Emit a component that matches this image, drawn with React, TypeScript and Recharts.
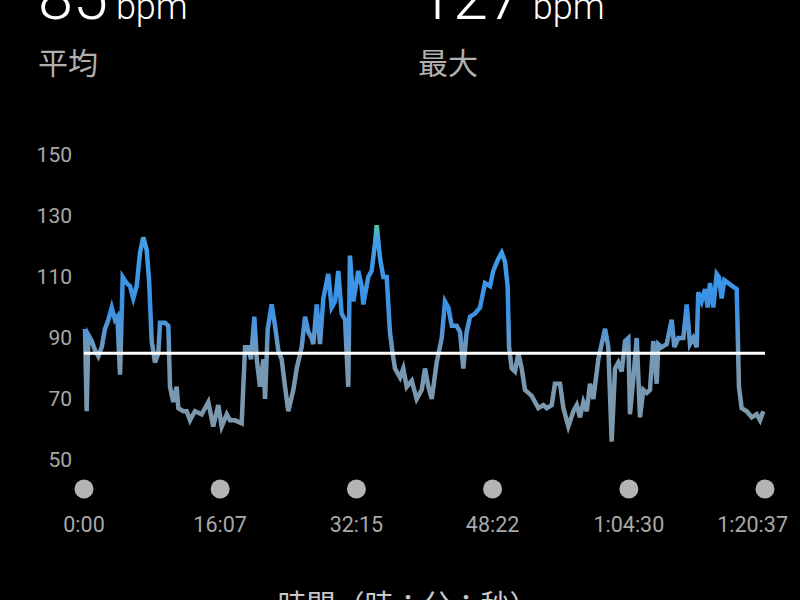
import { LineChart, Line, XAxis, YAxis, ReferenceLine } from 'recharts'

// elapsed seconds
const times = [
    7, 19, 31, 55, 78, 102, 126, 149, 173, 197, 220, 237, 256, 275, 303, 327, 350, 374, 398, 421,
    445, 462, 481, 504, 528, 540, 575, 599, 611, 634, 658, 670, 705, 729, 753, 776,
    788, 836, 883, 918, 954, 978, 1014, 1037, 1073, 1120, 1144, 1167, 1186, 1210, 1227, 1250, 1274, 1286, 1305, 1333,
    1357, 1380, 1404, 1428, 1451, 1487, 1511, 1546, 1570, 1593,
    1617, 1629, 1653, 1676, 1700, 1735, 1759, 1783, 1806, 1830, 1854, 1877, 1889, 1913, 1948, 1972, 1984, 2019, 2043, 2067,
    2079, 2103, 2126, 2150, 2173, 2192, 2209, 2245, 2268, 2292, 2328, 2363, 2399,
    2422, 2446, 2470, 2505, 2541, 2564, 2588, 2612, 2647, 2671, 2694, 2718, 2742, 2777, 2813, 2848, 2884, 2907, 2943, 2967,
    2990, 3009, 3019, 3038, 3061, 3085, 3109, 3132, 3180, 3227,
    3263, 3287, 3322, 3345, 3381, 3405, 3440, 3476, 3500, 3523, 3547, 3571, 3594, 3618, 3653, 3677, 3701, 3724, 3748, 3772,
    3795, 3819, 3843, 3866, 3878, 3902, 3926, 3949, 3973, 3997, 4020, 4044,
    4068, 4079, 4103, 4139, 4174, 4193, 4221, 4257, 4281, 4304, 4328, 4352, 4363, 4387, 4411, 4430, 4446, 4470, 4494, 4510,
    4529, 4548, 4576, 4605, 4636, 4652, 4671, 4707, 4743, 4778, 4802, 4825,
]

const bpm = [
    93, 66, 91, 89, 86, 84, 87, 93, 96, 100, 96, 97, 78, 110, 108, 107, 103, 107, 118, 123,
    119, 109, 89, 82, 85, 95, 95, 94, 74, 69, 74, 67, 66, 66, 63, 65,
    66, 65, 69, 61, 68, 61, 65, 63, 63, 62, 87, 87, 83, 97, 83, 74, 83, 70, 93, 101,
    94, 86, 83, 74, 66, 73, 80, 87, 97, 92,
    90, 88, 101, 88, 103, 111, 100, 102, 112, 98, 96, 74, 117, 102, 112, 107, 101, 110, 112, 121,
    127, 116, 110, 110, 92, 85, 80, 77, 80, 74, 76, 70, 73,
    80, 74, 70, 82, 90, 102, 100, 94, 94, 92, 80, 92, 97, 98, 100, 108, 107, 112, 116, 118,
    115, 107, 87, 80, 79, 85, 80, 73, 71, 67,
    68, 67, 68, 75, 75, 67, 61, 66, 68, 64, 69, 66, 75, 70, 83, 88, 93, 87, 56, 80,
    82, 79, 89, 90, 65, 77, 90, 64, 73, 72, 73, 89,
    75, 88, 87, 88, 96, 87, 90, 90, 101, 88, 90, 87, 105, 102, 106, 100, 108, 100, 111, 110,
    103, 109, 108, 107, 106, 74, 67, 66, 64, 65, 63, 66,
]

const xTicks = [0, 967, 1935, 2902, 3870, 4837]
const xTickLabels = ['0:00', '16:07', '32:15', '48:22', '1:04:30', '1:20:37']
const yTicks = [50, 70, 90, 110, 130, 150]

const avgBpm = 85
const maxBpm = 127

const data = times.map((t, i) => ({ t, bpm: bpm[i] }))

// colour by heart rate value
const colorStops = [
    { v: 127, color: '#52c6a0' },
    { v: 122, color: '#3f9fe8' },
    { v: 100, color: '#3a90e4' },
    { v: 92, color: '#5596d4' },
    { v: 85, color: '#7598b4' },
    { v: 50, color: '#7f98aa' },
]

const FONT = "Roboto, 'Noto Sans CJK JP', sans-serif"

function XTick(props: any) {
    const { x, y, payload } = props
    const idx = xTicks.indexOf(payload.value)
    const last = idx === xTicks.length - 1
    return (
        <g>
            <circle cx={x} cy={y + 29} r={9.5} fill="#b4b4b4" />
            <text
                x={last ? x + 23 : x}
                y={y + 64}
                textAnchor={last ? 'end' : 'middle'}
                dominantBaseline="central"
                fill="#a8a8a8"
                fontSize={21.5}
                fontFamily={FONT}
            >
                {xTickLabels[idx]}
            </text>
        </g>
    )
}

export default function App() {
    const hi = Math.max(...bpm)
    const lo = Math.min(...bpm)
    return (
        <div style={{ position: 'fixed', left: 0, top: 0, width: 800, height: 600, background: '#000', overflow: 'hidden' }}>
            <LineChart
                width={800}
                height={600}
                data={data}
                margin={{ top: 155, right: 35, left: 0, bottom: 0 }}
            >
                <defs>
                    <linearGradient id="hrGrad" x1="0" y1="0" x2="0" y2="1">
                        {colorStops.map((s) => (
                            <stop
                                key={s.v}
                                offset={Math.min(1, Math.max(0, (hi - s.v) / (hi - lo)))}
                                stopColor={s.color}
                            />
                        ))}
                    </linearGradient>
                </defs>
                <XAxis
                    dataKey="t"
                    type="number"
                    domain={[0, 4837]}
                    ticks={xTicks}
                    interval={0}
                    axisLine={false}
                    tickLine={false}
                    tickSize={0}
                    tickMargin={0}
                    height={140}
                    tick={(p: any) => <XTick {...p} />}
                />
                <YAxis
                    type="number"
                    domain={[50, 150]}
                    ticks={yTicks}
                    interval={0}
                    width={84}
                    axisLine={false}
                    tickLine={false}
                    tickSize={6}
                    tickMargin={6}
                    tick={{ fill: '#a8a8a8', fontSize: 21, fontFamily: FONT }}
                />
                <Line
                    type="linear"
                    dataKey="bpm"
                    stroke="url(#hrGrad)"
                    strokeWidth={4.5}
                    strokeLinejoin="miter"
                    dot={false}
                    activeDot={false}
                    isAnimationActive={false}
                />
                <ReferenceLine y={avgBpm} stroke="#ffffff" strokeWidth={3} />
            </LineChart>
            <svg
                width={800}
                height={600}
                style={{ position: 'absolute', left: 0, top: 0, pointerEvents: 'none' }}
                fontFamily={FONT}
            >
                <text x={38} y={19} fill="#ffffff" fontSize={63} fontWeight={300}>
                    {avgBpm}
                    <tspan dx={8} fontSize={36}>bpm</tspan>
                </text>
                <text x={38} y={74} fill="#b0b0b0" fontSize={30}>平均</text>
                <text x={418} y={19} fill="#ffffff" fontSize={63} fontWeight={300}>
                    {maxBpm}
                    <tspan dx={10} fontSize={36}>bpm</tspan>
                </text>
                <text x={418} y={74} fill="#b0b0b0" fontSize={30}>最大</text>
                <text x={408} y={616} textAnchor="middle" fill="#c8c8c8" fontSize={29}>
                    時間（時：分：秒）
                </text>
            </svg>
        </div>
    )
}
